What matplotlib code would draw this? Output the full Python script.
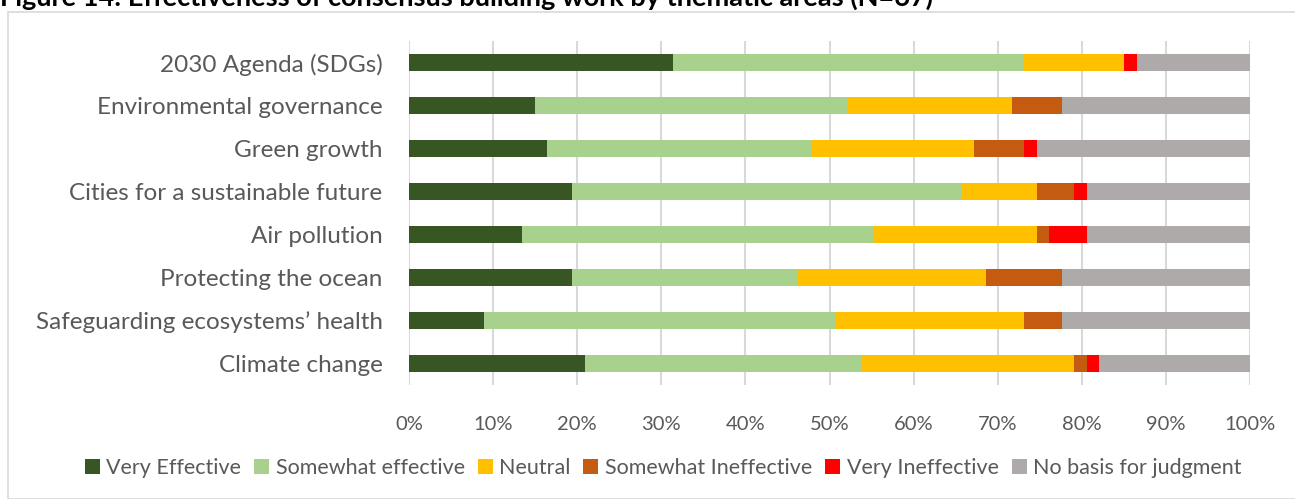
import matplotlib.pyplot as plt
import numpy as np
from matplotlib.patches import Rectangle

plt.rcParams['font.family'] = ['Lato', 'DejaVu Sans']

N = 67
themes = ['2030 Agenda (SDGs)', 'Environmental governance', 'Green growth',
          'Cities for a sustainable future', 'Air pollution', 'Protecting the ocean',
          'Safeguarding ecosystems\u2019 health', 'Climate change']
series = ['Very Effective', 'Somewhat effective', 'Neutral',
          'Somewhat Ineffective', 'Very Ineffective', 'No basis for judgment']
# response counts per theme (out of 67)
very_effective = [21, 10, 11, 13, 9, 13, 6, 14]
somewhat_effective = [28, 25, 21, 31, 28, 18, 28, 22]
neutral = [8, 13, 13, 6, 13, 15, 15, 17]
somewhat_ineffective = [0, 4, 4, 3, 1, 6, 3, 1]
very_ineffective = [1, 0, 1, 1, 3, 0, 0, 1]
no_basis = [9, 15, 17, 13, 13, 15, 15, 12]
colors = ['#375623', '#A9D18E', '#FFC000', '#C55A11', '#FF0000', '#AEAAAA']

W, H = 1295, 499
fig = plt.figure(figsize=(W / 100, H / 100), dpi=100)

# chart border and cut-off caption
fig.patches.append(Rectangle((8 / W, 0), 1.2, 1 - 12 / H, transform=fig.transFigure,
                             fill=False, edgecolor='#D9D9D9', linewidth=1.2))
fig.text(0, 1 - 6 / H, 'Figure 14: Effectiveness of consensus building work by thematic areas (N=67)',
         fontsize=19.5, fontweight='bold', va='baseline', ha='left', color='black')

ax = fig.add_axes([409 / W, 1 - 385 / H, (1250 - 409) / W, (385 - 41) / H])

data = [very_effective, somewhat_effective, neutral, somewhat_ineffective, very_ineffective, no_basis]
y = np.arange(len(themes))
left = np.zeros(len(themes))
for vals, name, c in zip(data, series, colors):
    pct = np.array(vals) / N * 100
    ax.barh(y, pct, left=left, height=0.4, color=c, label=name, zorder=3)
    left += pct

ax.set_ylim(len(themes) - 0.5, -0.5)
ax.set_xlim(0, 100)
ax.set_yticks(y)
ax.set_yticklabels(themes, fontsize=17.5, color='#595959')
ax.set_xticks(np.arange(0, 101, 10))
ax.set_xticklabels([f'{v}%' for v in range(0, 101, 10)], fontsize=14.5, color='#595959')
ax.tick_params(length=0)
ax.tick_params(axis='x', pad=22)
ax.tick_params(axis='y', pad=19)
ax.grid(axis='x', color='#D9D9D9', linewidth=1.5, zorder=0)
for s in ax.spines.values():
    s.set_visible(False)

fig.legend(loc='center', bbox_to_anchor=(0.512, 1 - 468 / H), ncol=6, frameon=False,
           fontsize=15.5, handlelength=0.7, handleheight=0.7, handletextpad=0.3,
           columnspacing=0.6, labelcolor='#595959')

plt.savefig('out.png', dpi=100)
